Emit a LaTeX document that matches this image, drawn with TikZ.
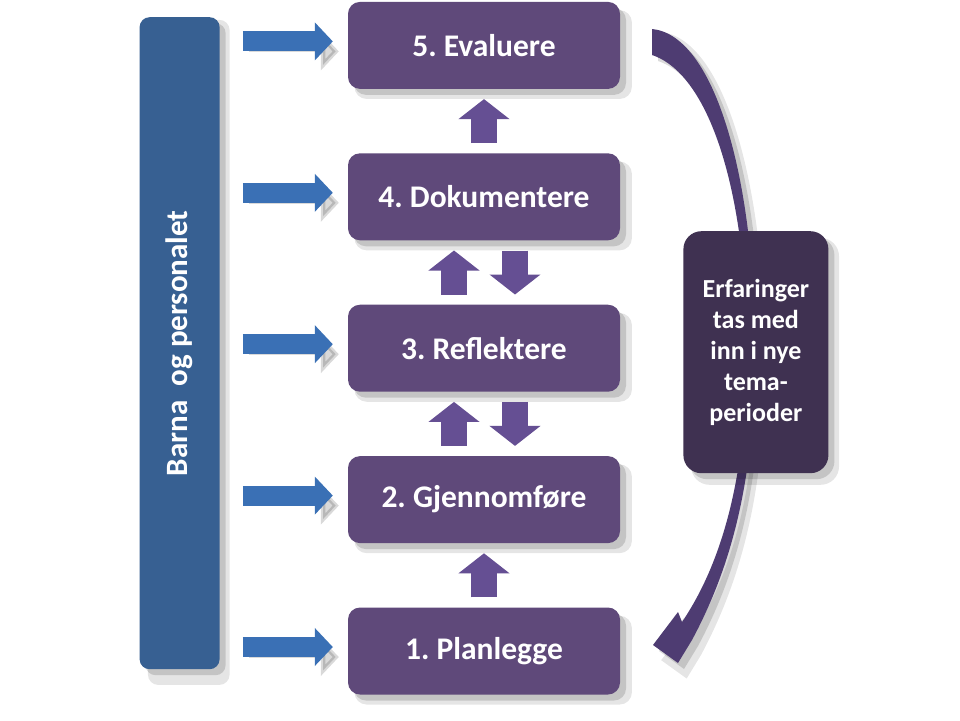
\documentclass[tikz,border=0pt]{standalone}
\usepackage{fontspec}
\setmainfont{Carlito}
\usetikzlibrary{positioning,arrows.meta,shadows}
\definecolor{stagecol}{HTML}{5F497A}
\definecolor{barcol}{HTML}{376092}
\definecolor{feedcol}{HTML}{3A70B5}
\definecolor{flowcol}{HTML}{654F93}
\definecolor{carrycol}{HTML}{3F3151}
\definecolor{loopcol}{HTML}{4E3C72}
\frenchspacing
\tikzset{
    >=Stealth[round],
    softshadow/.style = {drop shadow={shadow xshift=9pt, shadow yshift=-9pt, opacity=.10, fill=black, shadow scale=1.02},
                         drop shadow={shadow xshift=6pt, shadow yshift=-6pt, opacity=.14, fill=black}},
    stage/.style = {fill=stagecol, rounded corners=12pt, minimum width=272pt, minimum height=87pt,
                    text=white, font=\fontsize{31.5}{37}\selectfont\bfseries, softshadow},
    actors/.style = {fill=barcol, rounded corners=10pt, minimum width=80pt, minimum height=652pt,
                     text=white, font=\fontsize{31}{37}\selectfont\bfseries, softshadow},
    carry/.style = {fill=carrycol, rounded corners=18pt, minimum width=145pt, minimum height=242pt,
                    text=white, align=center, font=\fontsize{26}{31}\selectfont\bfseries, softshadow},
    feed/.style = {line width=20pt, draw=feedcol, -{Triangle[width=37pt,length=18pt]},
                   shorten <=23pt, shorten >=15pt, transform canvas={yshift=4pt},
                   preaction={draw=black, opacity=.15, transform canvas={shift={(6pt,-6pt)}}}},
    flow/.style = {line width=26pt, draw=flowcol, -{Triangle[width=50pt,length=20pt]},
                   shorten <=10pt, shorten >=10pt},
}

\begin{document}
\begin{tikzpicture}[x=1pt, y=-1pt]
    \useasboundingbox (0,0) rectangle (960,720);
    \fill[white] (0,0) rectangle (960,720);

    % loop back from evaluation to planning
    \fill[loopcol, softshadow] (652,29) .. controls (715,35) and (755,180) .. (755,350)
        .. controls (755,470) and (735,560) .. (692,640) -- (678,663) -- (653,645)
        -- (678,612) -- (682,622) .. controls (724,560) and (747,470) .. (747,350)
        .. controls (747,200) and (712,75) .. (652,55) -- cycle;

    \node[stage] (s1) at (484,651) {1. Planlegge};
    \node[stage] (s2) [above=64pt of s1] {2. Gjennomføre};
    \node[stage] (s3) [above=64pt of s2] {3. Reflektere};
    \node[stage] (s4) [above=64pt of s3] {4. Dokumentere};
    \node[stage] (s5) [above=64pt of s4] {5. Evaluere};

    \node[actors] (bar) [left=128pt of s3, yshift=5pt] {\rotatebox{90}{Barna~ og personalet}};

    \node[carry] (carry) [right=63pt of s3, yshift=-4pt]
        {Erfaringer\\tas med\\inn i nye\\tema-\\perioder};

    \foreach \s in {s1,s2,s3,s4,s5}
        \draw[feed] (\s.west -| bar.east) -- (\s.west);

    \draw[flow] (s1.north) -- (s2.south);
    \draw[flow] ([xshift=-30pt]s2.north) -- ([xshift=-30pt]s3.south);
    \draw[flow] ([xshift=31pt]s3.south) -- ([xshift=31pt]s2.north);
    \draw[flow] ([xshift=-30pt]s3.north) -- ([xshift=-30pt]s4.south);
    \draw[flow] ([xshift=31pt]s4.south) -- ([xshift=31pt]s3.north);
    \draw[flow] (s4.north) -- (s5.south);
\end{tikzpicture}
\end{document}
